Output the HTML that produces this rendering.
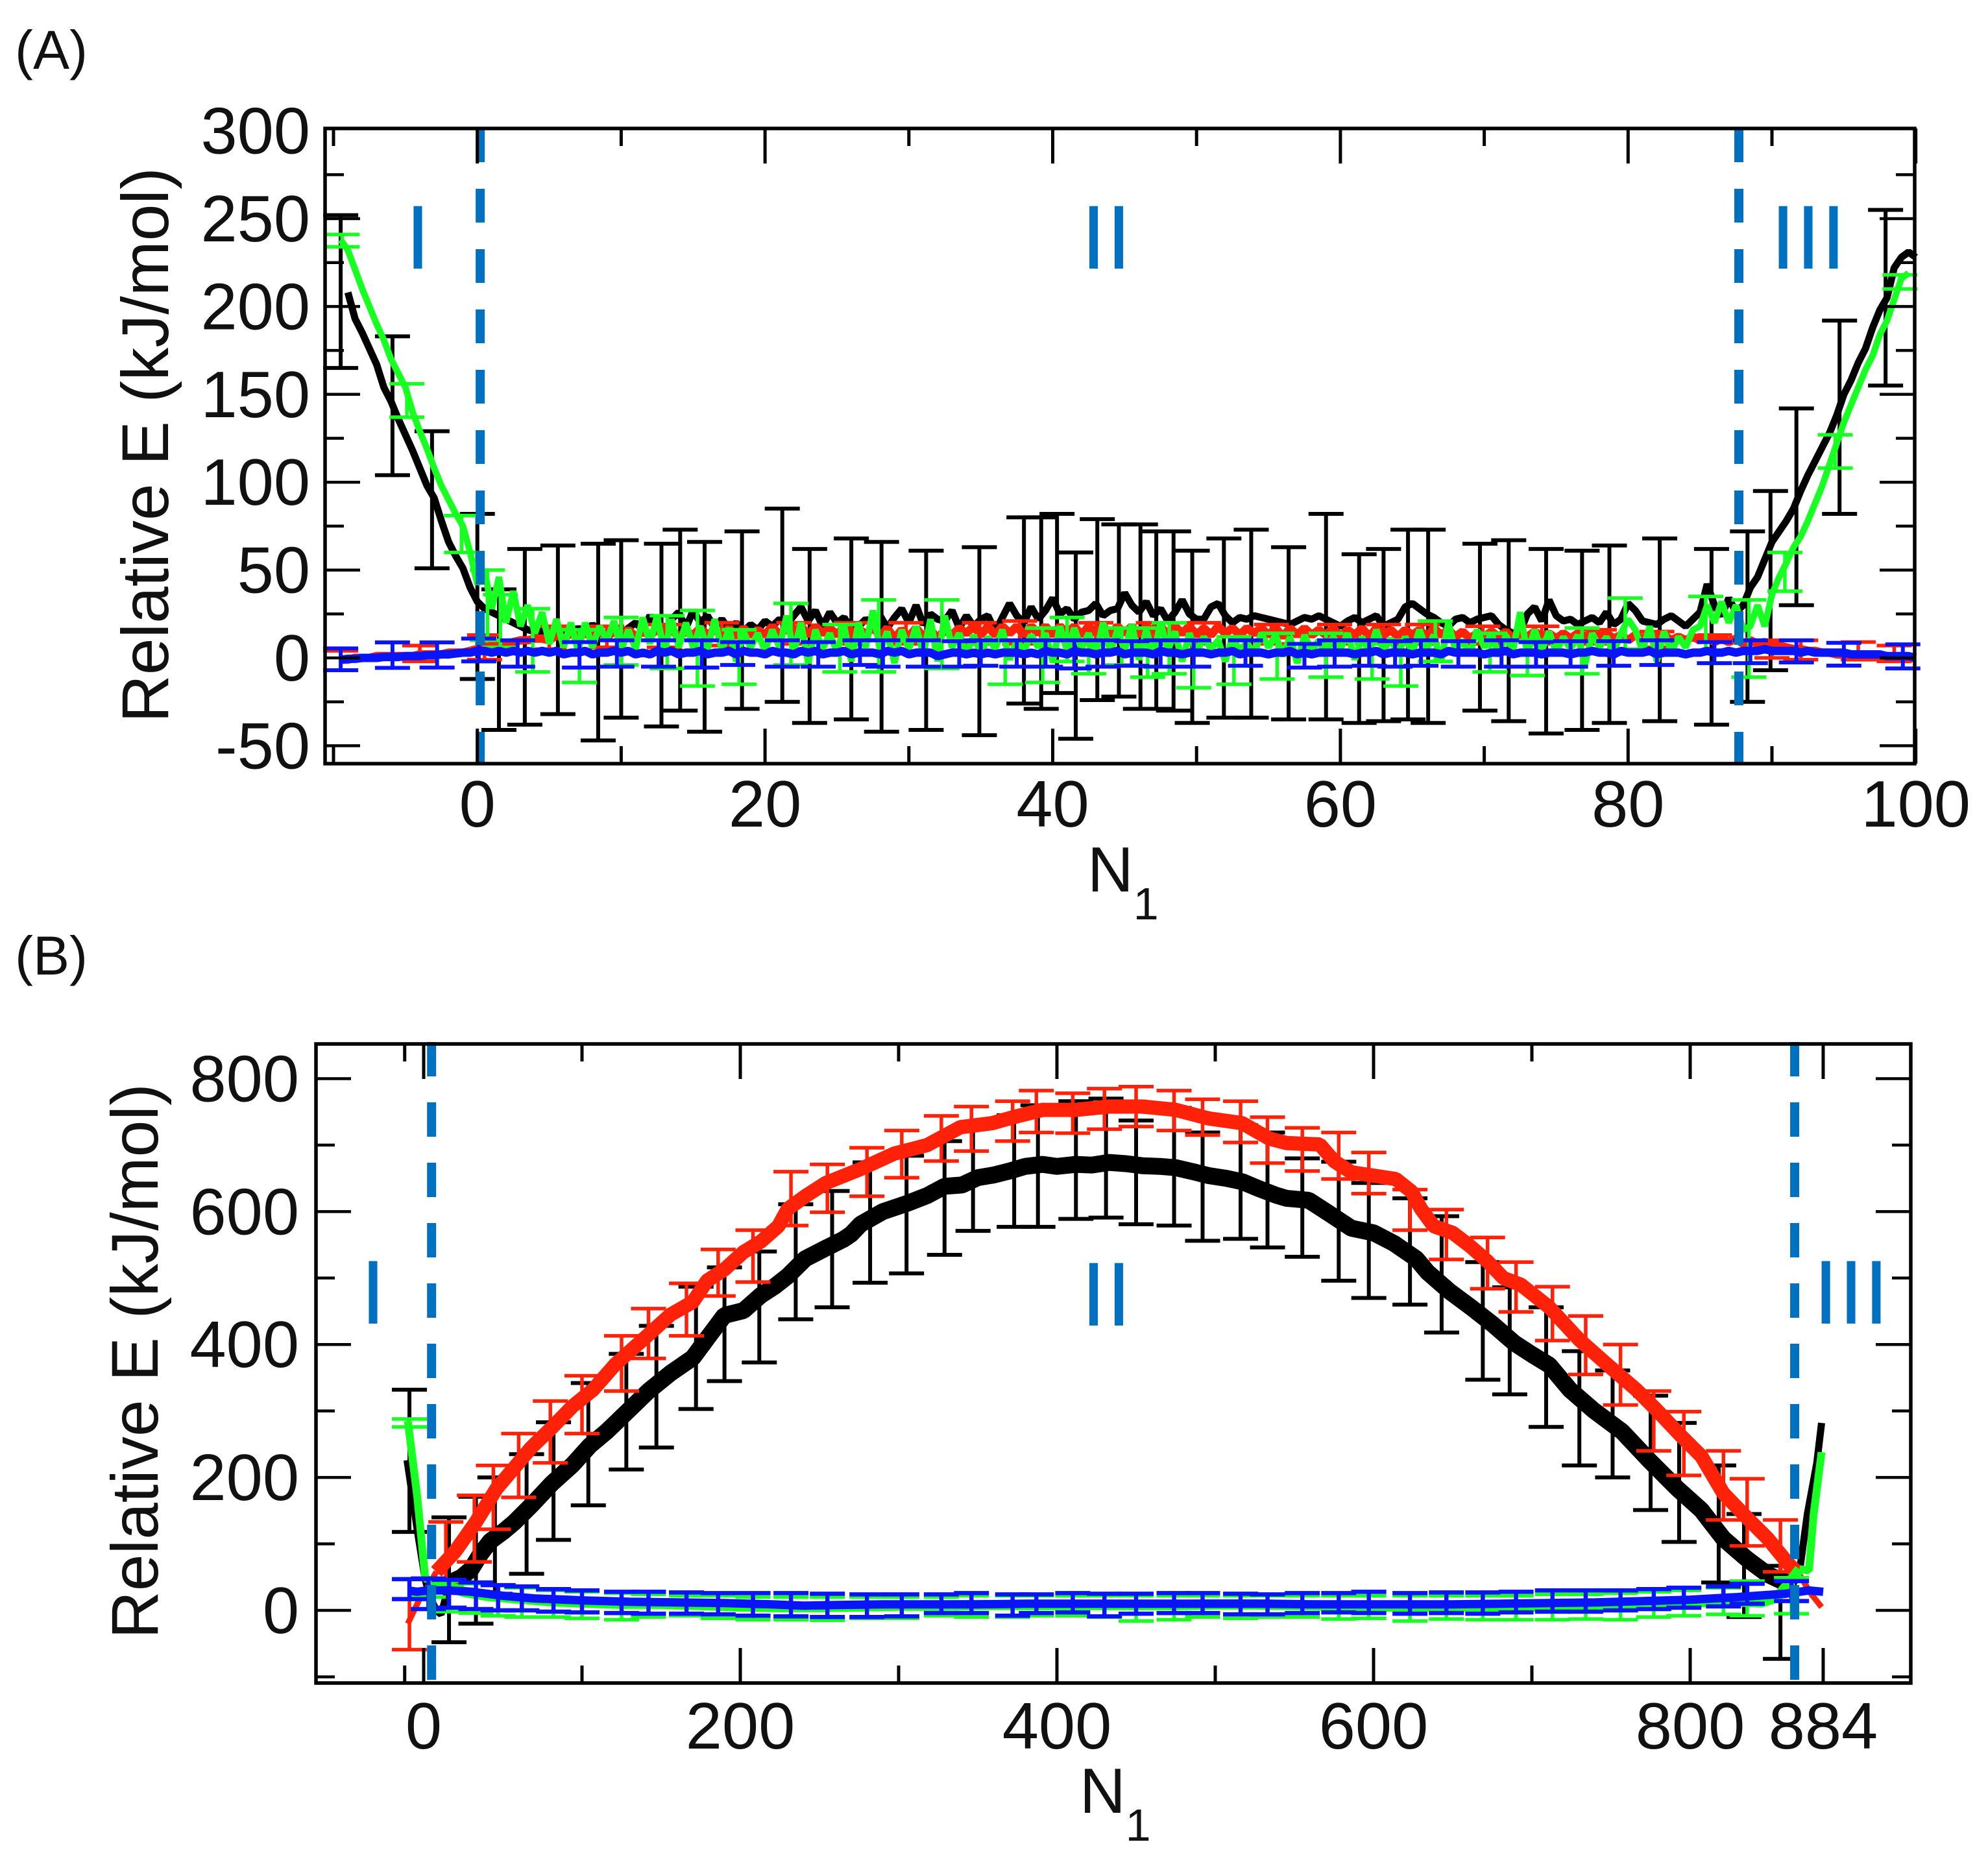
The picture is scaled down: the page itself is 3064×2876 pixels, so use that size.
<!DOCTYPE html>
<html lang="en">
<head>
<meta charset="utf-8">
<title>Relative energy versus N1</title>
<style>
html,body{margin:0;padding:0;background:#fff;}
svg{display:block;}
text{font-family:"Liberation Sans",sans-serif;fill:#111;}
.region{fill:#0070c0;font-size:140px;text-anchor:middle;}
.tick{font-size:101px;}
.title{font-size:102px;}
</style>
</head>
<body>
<svg id="chart" xmlns="http://www.w3.org/2000/svg" width="3064" height="2876" viewBox="0 0 3064 2876">
  <rect x="0" y="0" width="3064" height="2876" fill="#fff"/>
  <text x="23" y="106" font-size="84">(A)</text>
  <text x="23" y="1502" font-size="84">(B)</text>
  <text class="title" text-anchor="middle" transform="translate(259,686) rotate(-90)">Relative E (kJ/mol)</text>
  <text class="title" text-anchor="middle" transform="translate(243,2098) rotate(-90)">Relative E (kJ/mol)</text>
  <text x="1676" y="1374" font-size="98">N<tspan font-size="70" dy="43">1</tspan></text>
  <text x="1664" y="2794" font-size="98">N<tspan font-size="70" dy="43">1</tspan></text>
  <g id="panelA"></g>
  <g id="panelB"></g>
  <text class="region" x="644" y="414">I</text>
  <text class="region" x="1705" y="414">II</text>
  <text class="region" x="2787" y="414">III</text>
  <text class="region" x="575" y="2040">I</text>
  <text class="region" x="1705" y="2043">II</text>
  <text class="region" x="2853" y="2040">III</text>
</svg>
<script>
/* ---------- Panel A data ---------- */
const aXMajor = [0, 20, 40, 60, 80, 100];
const aXMinor = [-10, 10, 30, 50, 70, 90];
const aYMajor = [-50, 0, 50, 100, 150, 200, 250, 300];
const aYMinor = [-25, 25, 75, 125, 175, 225, 275];
const aBoundaries = [0.2, 87.7];
const aLineStart = -10;
const aLineStep = 0.5;

const aBlackLine = [
null,null,208,193,185,176,167,154,146,136,
127,118,108,98,91,78,66,58,51,40,
32,28,26,24,22,20,18,16,15,15,
12,14,16,13,17,14,19,15,12,16,
13,17,20,16,24,18,14,22,26,17,
27,20,24,17,22,16,20,15,19,16,
21,18,22,19,24,29,21,27,18,26,
20,23,16,18,22,19,24,17,23,28,
20,30,19,25,22,21,27,17,24,18,
22,24,15,23,31,24,20,29,22,27,
34,25,28,22,26,27,31,24,27,28,
37,30,26,32,24,28,21,26,33,25,
22,22,29,31,24,20,23,22,24,23,
22,21,20,19,21,23,22,24,22,20,
18,21,23,20,22,24,18,20,22,29,
31,28,25,23,20,18,22,23,20,22,
23,24,19,16,14,15,25,29,21,33,
24,21,22,19,21,23,20,26,19,22,
31,27,21,20,19,22,24,21,18,22,
26,42,30,24,34,26,30,40,46,56,
66,72,78,85,95,104,112,120,128,138,
150,158,168,176,188,198,205,222,228,231,
228];

const aRedLine = [
null,-1,-1,0,0,0,1,1,1,1,
1,1,2,2,2,2,3,3,3,4,
5,6,7,8,8,9,10,10,11,11,
10,13,11,14,12,14,12,15,12,15,
12,16,12,15,13,16,13,16,12,15,
13,17,13,16,13,17,12,17,13,16,
13,18,13,17,14,18,13,18,14,17,
13,18,12,17,13,18,12,17,11,16,
12,17,12,16,11,16,13,17,14,18,
13,18,13,18,14,18,13,18,14,18,
13,18,14,18,13,18,14,18,13,18,
14,18,13,18,14,18,13,18,14,18,
13,17,13,18,14,17,13,17,14,17,
13,17,12,17,13,17,13,16,13,17,
12,16,13,17,12,17,13,16,12,16,
13,16,12,17,13,16,12,15,11,14,
12,15,12,15,11,14,12,15,12,14,
11,14,11,14,12,14,11,14,11,13,
10,13,11,13,10,13,10,12,10,12,
10,12,9,11,9,11,8,10,8,9,
7,7,6,5,5,4,4,3,3,2,
2,2,1,1,1,0,0,0,0,0,
0];

const aGreenLine = [
null,238,232,221,210,200,190,181,170,162,
154,140,129,119,108,98,90,82,75,60,
42,50,28,46,20,38,18,30,14,26,
8,22,6,20,4,20,6,18,10,21,
4,16,5,23,8,24,3,22,6,20,
6,18,5,22,4,17,-2,15,6,14,
4,16,6,24,3,20,-3,16,5,14,
3,18,-2,20,6,27,4,15,-3,16,
5,18,2,22,-2,24,6,14,2,13,
2,12,5,16,-1,10,4,13,6,14,
-2,18,4,17,5,14,2,20,3,16,
4,19,-1,16,2,20,4,15,-2,14,
3,12,5,10,-2,12,4,9,2,14,
6,13,1,12,-3,13,4,10,2,12,
5,14,-1,12,3,16,4,11,2,12,
3,16,5,13,-2,20,4,10,2,16,
6,14,1,13,4,26,2,16,4,15,
3,12,5,13,-4,14,6,12,3,14,
22,16,4,18,-2,15,3,12,6,16,
18,30,20,32,20,30,16,18,30,18,
36,46,54,63,69,78,88,98,110,122,
134,144,154,164,172,184,192,204,216,219];

const aBlueLine = [
null,-1,-0.5,-0.5,0,0,0,0.5,0.5,0.5,
1,1,1,1.5,1.5,2,2,2.5,3,3,
4,4,3,4,3,4,3,4,3,4,
3,4,2,3,3,4,2,3,3,4,
3,4,2,3,2,4,3,4,2,3,
3,4,2,3,3,4,2,4,3,3,
2,4,3,3,2,4,3,4,2,3,
3,4,2,3,3,3,2,4,3,4,
2,3,3,3,1,2,3,3,2,3,
2,3,2,3,3,3,2,3,2,4,
3,3,2,4,3,3,2,3,3,4,
2,3,3,3,2,4,3,3,2,3,
3,3,2,3,3,4,2,3,3,3,
2,3,3,4,2,3,2,3,3,3,
3,3,2,3,3,4,2,3,3,3,
2,3,3,3,2,4,3,3,3,3,
2,3,3,4,2,3,3,3,2,3,
3,3,2,3,3,4,3,3,2,4,
3,3,3,4,2,3,3,3,2,3,
3,4,3,3,4,3,4,4,4,5,
4,4,4,4,3,4,3,3,3,3,
3,2,2,2,2,2,1,1,1,1,
0];

const aBlackBarN = [-9.5,-5.9,-3.15,0,1.5,3.3,5.6,8.4,10,12.8,14.1,15.8,18.4,21.2,23.1,26,28.1,31.2,34.9,38,39.2,40.3,41.6,43.1,44.6,46.1,47.2,48.4,49.7,51.9,53.8,56.4,59,61.3,63,64.7,66.1,69.7,71.7,74.3,76.8,78.7,82.2,85.8,88.3,89.9,91.7,94.7,97.9];
const aBlackBarTop = [252,183,129,82,39,62,64,65,67,65,73,66,72,85,62,68,66,61,63,80,80,82,60,79,76,76,72,72,61,68,73,63,82,59,62,73,73,65,67,62,61,64,68,62,72,95,142,192,255];
const aBlackBarBottom = [165,104,51,-12,-41,-38,-32,-47,-34,-39,-30,-42,-29,-25,-37,-35,-42,-41,-44,-26,-29,-20,-46,-24,-22,-29,-29,-30,-37,-34,-34,-35,-35,-37,-36,-35,-37,-30,-36,-43,-41,-37,-36,-38,-25,-7,30,82,155];

const aRedBarN = [-9.5,-4,0.5,5,9,13,17,22,26,29.8,34.9,37.7,43,47,50.5,55.2,59.6,63,65.7,69.9,74,78,82,86,90,92,96,98.5];
const aRedBarTop = [4,7,13,18,18,19,20,20,20,20,20,21,20,20,20,19,19,19,19,18,18,16,15,13,10,10,9,7];
const aRedBarBottom = [-7,-2,-1,5,6,6,7,8,8,8,8,8,8,8,8,8,8,8,8,8,8,8,6,4,0,-1,-1,-2];

const aGreenBarN = [-9.4,-4.9,-1.1,0.7,1.6,3.85,7.1,10,13.2,15.3,18.2,21.8,25.2,27.9,32.3,36.7,39.3,41,42.5,44.8,46.6,48.1,49.8,52.6,55.6,59,62.2,64.2,66.6,70.4,73,76.8,79.8,85.4,88.4,90.9,94.4,98.9];
const aGreenBarTop = [241,156,81,50,36,28,16,23,24,27,16,31,19,33,33,10,17,23,9,17,17,20,10,12,14,14,8,10,21,14,10,17,34,35,33,60,127,218];
const aGreenBarBottom = [234,137,60,10,6,-8,-14,-4,-6,-16,-15,-4,-8,-8,-6,-15,-14,-2,-9,-4,-11,-9,-17,-15,-12,-11,-12,-16,-2,-8,-10,-9,5,4,-11,38,108,210];

const aBlueBarN = [-9.5,-5.9,-2.8,0.1,2.8,7.1,9.7,12.6,15.6,18.1,21.2,23.7,26.6,28.2,31,33.5,35,37.5,39.5,41.5,43.5,45.5,47.5,49.8,53.4,57.5,59.6,62,63.8,65.6,68.2,71.2,73.6,76,79,82,86,88.5,91.7,95,99.1];
const aBlueBarTop = [5.4,8.8,8.8,11,10,9,10,10,10,9,10,9,10,10,10,9.5,10,10,10,10,10,9.5,10,10,10,8,10,10,9.5,10,9.5,10,9,9.5,9.5,10,9,10,10,8.6,7.7];
const aBlueBarBottom = [-7,-5.7,-5.5,-2,-5,-5.5,-5,-5,-5.5,-4,-5,-5,-4,-5,-5,-5,-4.5,-5,-5,-6,-5,-4.5,-5,-5,-4.5,-5.5,-5,-4.5,-5,-4.5,-5,-5,-5,-5,-4.5,-4,-3,-3,-2.6,-4.4,-6];

/* ---------- Panel B data ---------- */
const bXMajor = [0, 200, 400, 600, 800, 884];
const bXMinor = [-12, 100, 300, 500, 700];
const bYMajor = [0, 200, 400, 600, 800];
const bYMinor = [-100, 100, 300, 500, 700];
const bBoundaries = [5, 866];

const bBlackLeftN = [-10.5,-7,-4,-1,1,4,8,11,14,17];
const bBlackLeftE = [226,170,120,75,46,20,0,-6,20,42];
const bBlackMainN = [17,24,30,36,42,50,57,68,81,94,105,116,129,142,156,170,179,190,202,213,222,230,241,254,265,270,276,290,305,318,329,340,350,360,370,380,391,400,412,422,433,444,454,465,475,486,496,507,517,527,538,545,559,572,586,600,613,627,634,648,661,675,689,700,711,724,739,757,774,792,807,821,836,849,858,865];
const bBlackMainE = [42,50,62,85,104,118,132,158,191,219,248,270,300,330,357,380,409,444,451,474,488,503,529,545,558,566,581,600,612,624,638,640,651,655,661,668,671,668,671,670,674,672,669,668,666,660,654,650,645,635,625,620,617,597,575,568,552,529,509,480,457,431,402,385,369,332,301,269,226,183,151,108,77,54,44,40];
const bBlackRightN = [865,869,874,880,883];
const bBlackRightE = [40,58,145,222,282];

const bRedLeftN = [-10,-7,-3,1,8];
const bRedLeftE = [-20,-5,15,28,58];
const bRedMainN = [8,20,33,46,57,68,81,94,107,121,136,142,156,170,179,190,202,213,224,230,241,254,276,297,318,339,359,374,391,412,433,454,475,496,517,534,545,566,575,586,600,614,624,630,638,650,661,672,682,693,711,730,748,766,779,794,807,821,836,849,862,869];
const bRedMainE = [58,89,133,183,214,245,275,307,332,370,402,415,445,464,496,513,539,555,578,604,623,643,664,687,700,727,733,743,753,753,758,758,753,740,733,710,703,701,676,659,654,649,630,604,578,568,548,525,500,490,456,407,369,332,301,263,232,176,139,108,70,54];
const bRedRightN = [869,876,883];
const bRedRightE = [54,26,5];

const bGreenLeftN = [-10,-4,1,8,14];
const bGreenLeftE = [285,170,48,42,38];
const bGreenMainN = [14,25,40,60,80,100,125,150,175,200,225,250,275,300,325,350,375,400,425,450,475,500,525,550,575,600,625,650,675,700,725,750,775,800,825,845,855,862,869];
const bGreenMainE = [38,28,22,18,14,12,10,10,8,6,5,5,6,7,7,8,8,8,8,8,8,9,9,8,7,6,6,6,6,6,7,8,10,12,14,12,20,40,62];
const bGreenRightN = [869,875,878,883];
const bGreenRightE = [62,60,145,238];

const bBlueLineN = [-10,-4,2,15,30,50,70,100,130,160,190,220,240,260,290,320,350,380,410,440,470,500,530,560,590,620,650,680,710,740,770,800,830,860,875,884];
const bBlueLineE = [30,28,30,30,28,22,18,15,13,12,11,9,7,8,9,9,9,10,10,10,10,10,10,9,9,9,9,10,11,12,14,16,20,25,30,28];

const bBlackBarN = [-9,16,33,45,65,82,104,128,147,172,190,212,235,258,282,305,329,347,373,388,412,431,450,474,492,516,533,555,578,597,623,643,669,686,709,730,751,775,793,818,834,857];
const bBlackBarTop = [332,140,171,200,235,283,342,386,428,487,516,540,611,631,674,684,706,730,745,760,766,770,737,756,719,730,719,680,675,643,620,593,524,486,456,390,361,323,282,218,145,67];
const bBlackBarBottom = [118,-48,-20,25,55,106,158,212,245,303,345,373,438,456,493,507,535,571,577,577,589,591,581,579,556,559,546,532,496,470,460,418,347,325,276,218,200,151,103,42,-10,-73];

const bRedBarN = [-9,14,32,44,60,80,100,125,142,166,186,208,232,255,280,302,327,346,372,387,410,430,450,474,492,516,533,555,578,597,623,646,672,690,713,734,756,777,796,821,836,857];
const bRedBarTop = [47,133,173,218,266,315,353,413,454,492,543,572,660,671,696,722,744,758,766,782,778,785,788,782,769,766,742,726,719,689,633,603,561,524,487,443,400,330,299,240,198,136];
const bRedBarBottom = [-59,40,73,122,170,222,266,330,379,413,473,494,579,599,623,651,676,691,706,719,718,724,728,722,715,704,673,661,649,627,572,528,484,449,406,355,309,240,203,136,97,58];

const bSmallBarN = [-9,3,16,33,47,62,82,100,125,142,166,186,208,232,255,280,302,327,346,372,387,410,430,450,474,492,516,533,555,578,597,623,646,669,690,713,734,756,777,796,821,836,864];
const bGreenBarTop = [288,48,44,40,38,34,30,28,26,24,22,22,20,20,20,20,20,20,22,22,22,22,22,22,22,22,22,22,22,22,22,22,22,22,22,24,24,26,28,30,34,44,49];
const bGreenBarBottom = [276,20,-2,-4,-8,-10,-10,-12,-14,-10,-8,-12,-14,-14,-15,-12,-12,-8,-10,-10,-8,-8,-10,-16,-14,-10,-12,-10,-10,-13,-12,-16,-13,-14,-14,-14,-13,-14,-10,-8,-6,-8,-5];
const bBlueBarTop = [47,48,46,42,38,36,32,30,28,28,27,26,26,26,25,24,24,24,26,24,24,26,25,25,26,26,25,24,26,26,28,26,27,27,28,30,30,30,32,34,36,40,44];
const bBlueBarBottom = [17,2,4,2,0,0,-2,-3,-4,-5,-5,-6,-8,-9,-10,-10,-9,-4,-4,-8,-4,-3,-9,-5,-4,-4,-6,-6,-4,-3,-4,-5,-4,-5,-3,-2,-2,0,2,4,6,10,14];

/* ---------- Axis functions ---------- */
function xA(n) { return 735.7 + 22.17 * n; }
function yA(v) { return 1014 - 2.708 * v; }
function xB(n) { return 653 + 2.44 * n; }
function yB(v) { return 2482 - 1.0244 * v; }

const NS = 'http://www.w3.org/2000/svg';
const BLACK = '#000000';
const RED = '#ff2208';
const GREEN = '#18ff22';
const BLUE = '#0a14f8';
const BOUNDARY = '#0070c0';

function make(tag, attrs, parent) {
  const el = document.createElementNS(NS, tag);
  for (const k in attrs) el.setAttribute(k, attrs[k]);
  parent.appendChild(el);
  return el;
}

function drawBars(parent, xf, yf, ns, tops, bottoms, color, stem) {
  for (let i = 0; i < ns.length; i++) {
    const x = xf(ns[i]), yt = yf(tops[i]), yb = yf(bottoms[i]);
    const d = 'M' + x + ' ' + yt + 'V' + yb + 'M' + (x - 27) + ' ' + yt + 'H' + (x + 27) + 'M' + (x - 27) + ' ' + yb + 'H' + (x + 27);
    const el = make('path', { d: d, fill: 'none', stroke: color, 'stroke-width': stem }, parent);
    
    
  }
}

function drawLine(parent, points, color, width) {
  const el = make('polyline', {
    points: points.join(' '), fill: 'none', stroke: color, 'stroke-width': width,
    'stroke-linejoin': 'bevel', 'stroke-linecap': 'butt'
  }, parent);
  
  
}

function uniformPoints(xf, yf, values) {
  const pts = [];
  values.forEach(function (v, i) {
    if (v !== null) pts.push(xf(aLineStart + aLineStep * i).toFixed(1) + ',' + yf(v).toFixed(1));
  });
  return pts;
}

function pairedPoints(xf, yf, ns, vs) {
  return ns.map(function (n, i) { return xf(n).toFixed(1) + ',' + yf(vs[i]).toFixed(1); });
}

function drawFrame(parent, box, xf, yf, xMajor, xMinor, yMajor, yMinor, labelX, labelBase, boundaries, dashLen, dashGap, dashTop, dashBottom) {
  boundaries.forEach(function (b) {
    const el = make('line', {
      x1: xf(b), x2: xf(b), y1: dashTop, y2: dashBottom, stroke: BOUNDARY,
      'stroke-width': 14, 'stroke-dasharray': dashLen + ' ' + dashGap
    }, parent);
    
    
  });
  const frame = make('rect', {
    x: box.l, y: box.t, width: box.r - box.l, height: box.b - box.t,
    fill: 'none', stroke: '#000', 'stroke-width': 5.5
  }, parent);
  
  

  function xTicks(list, len) {
    list.forEach(function (n) {
      const x = xf(n);
      const d = 'M' + x + ' ' + box.t + 'v' + len + 'M' + x + ' ' + box.b + 'v' + (-len);
      const el = make('path', { d: d, stroke: '#000', 'stroke-width': 5, fill: 'none' }, parent);
      
      
    });
  }
  function yTicks(list, len) {
    list.forEach(function (v) {
      const y = yf(v);
      if (Math.abs(y - box.t) < 8) return;
      const d = 'M' + box.l + ' ' + y + 'h' + len + 'M' + box.r + ' ' + y + 'h' + (-len);
      const el = make('path', { d: d, stroke: '#000', 'stroke-width': 4.5, fill: 'none' }, parent);
      
      
    });
  }
  xTicks(xMajor, 54); xTicks(xMinor, 27);
  yTicks(yMajor, 54); yTicks(yMinor, 29);

  xMajor.forEach(function (n) {
    const t = make('text', { x: xf(n), y: labelBase, 'text-anchor': 'middle', class: 'tick' }, parent);
    t.textContent = String(n);
    
    
  });
  yMajor.forEach(function (v) {
    const t = make('text', { x: labelX, y: yf(v) + 35, 'text-anchor': 'end', class: 'tick' }, parent);
    t.textContent = String(v);
    
    
  });
}

/* ---------- Panel A ---------- */
const gA = document.getElementById('panelA');
drawBars(gA, xA, yA, aBlackBarN, aBlackBarTop, aBlackBarBottom, BLACK, 6);
drawLine(gA, uniformPoints(xA, yA, aBlackLine), BLACK, 11);
drawBars(gA, xA, yA, aRedBarN, aRedBarTop, aRedBarBottom, RED, 5.5);
drawLine(gA, uniformPoints(xA, yA, aRedLine), RED, 13);
drawBars(gA, xA, yA, aGreenBarN, aGreenBarTop, aGreenBarBottom, GREEN, 5.5);
drawLine(gA, uniformPoints(xA, yA, aGreenLine), GREEN, 10);
drawBars(gA, xA, yA, aBlueBarN, aBlueBarTop, aBlueBarBottom, BLUE, 6);
drawLine(gA, uniformPoints(xA, yA, aBlueLine), BLUE, 13);
drawFrame(gA, { l: 501, r: 2951, t: 198, b: 1177 }, xA, yA, aXMajor, aXMinor, aYMajor, aYMinor, 478, 1274, aBoundaries, 52, 41, 198, 1177);

/* ---------- Panel B ---------- */
const gB = document.getElementById('panelB');
drawBars(gB, xB, yB, bBlackBarN, bBlackBarTop, bBlackBarBottom, BLACK, 6);
drawLine(gB, pairedPoints(xB, yB, bBlackLeftN, bBlackLeftE), BLACK, 11);
drawLine(gB, pairedPoints(xB, yB, bBlackMainN, bBlackMainE), BLACK, 26);
drawLine(gB, pairedPoints(xB, yB, bBlackRightN, bBlackRightE), BLACK, 11);
drawBars(gB, xB, yB, bRedBarN, bRedBarTop, bRedBarBottom, RED, 5.5);
drawLine(gB, pairedPoints(xB, yB, bRedLeftN, bRedLeftE), RED, 9);
drawLine(gB, pairedPoints(xB, yB, bRedMainN, bRedMainE), RED, 22);
drawLine(gB, pairedPoints(xB, yB, bRedRightN, bRedRightE), RED, 9);
drawBars(gB, xB, yB, bSmallBarN, bGreenBarTop, bGreenBarBottom, GREEN, 5.5);
drawLine(gB, pairedPoints(xB, yB, bGreenLeftN, bGreenLeftE), GREEN, 12);
drawLine(gB, pairedPoints(xB, yB, bGreenMainN, bGreenMainE), GREEN, 16);
drawLine(gB, pairedPoints(xB, yB, bGreenRightN, bGreenRightE), GREEN, 12);
drawBars(gB, xB, yB, bSmallBarN, bBlueBarTop, bBlueBarBottom, BLUE, 6.5);
drawLine(gB, pairedPoints(xB, yB, bBlueLineN, bBlueLineE), BLUE, 13);
drawFrame(gB, { l: 487, r: 2945, t: 1609, b: 2594 }, xB, yB, bXMajor, bXMinor, bYMajor, bYMinor, 461, 2695, bBoundaries, 53, 40, 1606, 2589);
</script>
</body>
</html>
